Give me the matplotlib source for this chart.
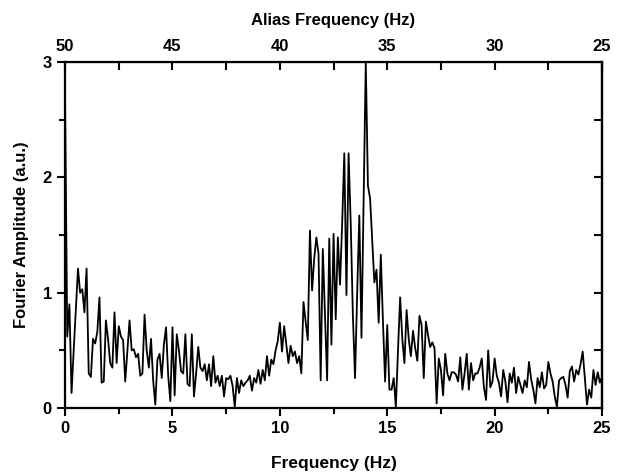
import matplotlib
matplotlib.use("Agg")
import matplotlib.pyplot as plt
import numpy as np
from matplotlib.ticker import MultipleLocator

plt.rcParams['font.family'] = ['Liberation Sans Narrow', 'Liberation Sans', 'DejaVu Sans']
plt.rcParams['font.weight'] = 'bold'

# frequency bin width (Hz)
DF = 0.1

# Fourier amplitude per bin, one row per Hz
amplitude = [
    2.65, 0.62, 0.90, 0.13, 0.50, 0.85, 1.21, 1.00, 1.03, 0.83,
    1.21, 0.30, 0.27, 0.60, 0.56, 0.66, 0.96, 0.22, 0.23, 0.76,
    0.60, 0.39, 0.35, 0.83, 0.39, 0.71, 0.62, 0.59, 0.23, 0.50,
    0.76, 0.50, 0.51, 0.44, 0.47, 0.28, 0.30, 0.81, 0.50, 0.35,
    0.60, 0.24, 0.03, 0.42, 0.47, 0.26, 0.55, 0.70, 0.28, 0.06,
    0.70, 0.11, 0.64, 0.50, 0.32, 0.30, 0.64, 0.21, 0.19, 0.64,
    0.10, 0.30, 0.53, 0.35, 0.32, 0.38, 0.24, 0.38, 0.19, 0.45,
    0.22, 0.28, 0.19, 0.28, 0.10, 0.26, 0.25, 0.28, 0.19, 0.01,
    0.26, 0.13, 0.24, 0.19, 0.22, 0.24, 0.28, 0.15, 0.26, 0.22,
    0.33, 0.21, 0.33, 0.24, 0.45, 0.28, 0.42, 0.38, 0.50, 0.58,
    0.74, 0.49, 0.71, 0.55, 0.39, 0.54, 0.45, 0.49, 0.39, 0.45,
    0.30, 0.92, 0.75, 0.59, 1.54, 1.02, 1.30, 1.48, 1.34, 0.24,
    1.38, 0.80, 0.24, 1.47, 0.55, 1.51, 0.77, 1.48, 1.07, 1.60,
    2.21, 0.98, 2.21, 1.60, 0.80, 0.26, 1.00, 1.67, 0.61, 1.80,
    3.00, 1.93, 1.82, 1.45, 1.09, 1.20, 0.74, 1.33, 0.75, 0.23,
    0.72, 0.16, 0.16, 0.26, 0.01, 0.50, 0.96, 0.60, 0.39, 0.85,
    0.60, 0.45, 0.67, 0.52, 0.41, 0.80, 0.72, 0.26, 0.75, 0.63,
    0.53, 0.57, 0.52, 0.04, 0.43, 0.33, 0.11, 0.47, 0.30, 0.24,
    0.31, 0.31, 0.29, 0.23, 0.44, 0.16, 0.30, 0.47, 0.16, 0.39,
    0.24, 0.30, 0.30, 0.35, 0.43, 0.18, 0.07, 0.50, 0.18, 0.23,
    0.43, 0.28, 0.22, 0.10, 0.33, 0.23, 0.05, 0.30, 0.22, 0.35,
    0.13, 0.27, 0.20, 0.13, 0.24, 0.18, 0.40, 0.25, 0.16, 0.04,
    0.26, 0.18, 0.31, 0.17, 0.20, 0.40, 0.30, 0.23, 0.10, 0.01,
    0.24, 0.26, 0.27, 0.20, 0.09, 0.32, 0.36, 0.23, 0.33, 0.29,
    0.38, 0.49, 0.26, 0.03, 0.16, 0.09, 0.33, 0.20, 0.31, 0.22,
    0.27,
]

x_ticks = [0, 5, 10, 15, 20, 25]
alias_ticks = [50, 45, 40, 35, 30, 25]
y_ticks = [0, 1, 2, 3]

NYQ2 = 50  # alias = 50 - f

freq = np.arange(len(amplitude)) * DF

fig = plt.figure(figsize=(6.2, 4.75), dpi=100)
ax = fig.add_axes([0.105, 0.141, 0.866, 0.728])

ax.plot(freq, amplitude, color='black', lw=1.3)

ax.set_xlim(0, 25)
ax.set_ylim(0, 3)
ax.set_xticks(x_ticks)
ax.set_yticks(y_ticks)
ax.xaxis.set_minor_locator(MultipleLocator(2.5))
ax.yaxis.set_minor_locator(MultipleLocator(0.5))
ax.tick_params(which='both', direction='out', width=1.5, labelsize=12)
ax.tick_params(which='major', length=6)
ax.tick_params(which='minor', length=4)

for s in ax.spines.values():
    s.set_linewidth(1.6)

ax.set_xlabel("Frequency (Hz)", fontsize=12.5, fontweight='bold', labelpad=14)
ax.set_ylabel("Fourier Amplitude (a.u.)", fontsize=12, fontweight='bold', labelpad=10)

top = ax.secondary_xaxis('top', functions=(lambda f: NYQ2 - f, lambda a: NYQ2 - a))
top.set_xticks(alias_ticks)
top.xaxis.set_minor_locator(MultipleLocator(2.5))
top.tick_params(which='both', direction='in', width=1.5, labelsize=12, pad=6)
top.tick_params(which='major', length=6)
top.tick_params(which='minor', length=6)
top.set_xlabel("Alias Frequency (Hz)", fontsize=12, fontweight='bold', labelpad=10)

right = ax.secondary_yaxis('right')
right.set_yticks(y_ticks)
right.yaxis.set_minor_locator(MultipleLocator(0.5))
right.tick_params(which='both', direction='in', width=1.5, labelright=False)
right.tick_params(which='major', length=6)
right.tick_params(which='minor', length=6)
right.spines['right'].set_linewidth(1.6)

fig.savefig("out.png", dpi=100)
